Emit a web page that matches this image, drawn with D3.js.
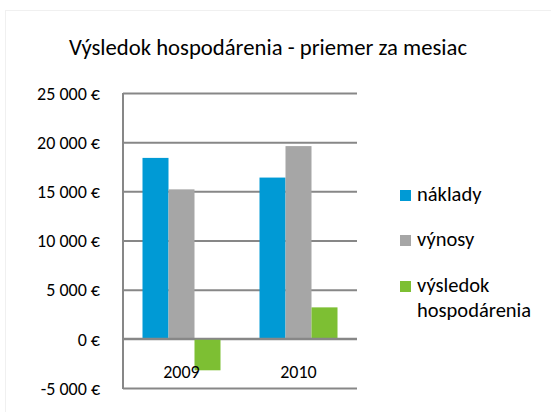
<!DOCTYPE html>
<html>
<head>
<meta charset="utf-8">
<script src="https://cdn.jsdelivr.net/npm/d3@7"></script>
<style>
    body { margin: 0; background: #fff; }
    text { font-family: Carlito, 'Liberation Sans', Arial, sans-serif; fill: #000; }
</style>
</head>
<body>
<div id="chart"></div>
<script>
const categories = ['2009', '2010'];
const seriesNames = ['náklady', 'výnosy', 'výsledok hospodárenia'];
const naklady = [18400, 16400];
const vynosy = [15200, 19600];
const vysledok = [-3200, 3200];
const yTicks = [-5000, 0, 5000, 10000, 15000, 20000, 25000];
const colors = ['#009AD5', '#A6A6A6', '#7DBF33'];

const seriesValues = [naklady, vynosy, vysledok];

const width = 551, height = 412;
const margin = { top: 93, right: 194, bottom: 24, left: 123 };

const svg = d3.select('#chart').append('svg')
    .attr('width', width)
    .attr('height', height);

// faint chart border
svg.append('rect')
    .attr('x', 5.5).attr('y', 10.5)
    .attr('width', 600).attr('height', 500)
    .attr('fill', 'none')
    .attr('stroke', '#f0f0f0');

// title
svg.append('text')
    .attr('x', 268)
    .attr('y', 55)
    .attr('text-anchor', 'middle')
    .style('font-size', '22.7px')
    .text('Výsledok hospodárenia - priemer za mesiac');

const plotW = width - margin.left - margin.right;
const plotH = height - margin.top - margin.bottom;

const g = svg.append('g')
    .attr('transform', 'translate(' + margin.left + ',' + margin.top + ')');

const locale = d3.formatLocale({
    decimal: ',', thousands: '\u00a0', grouping: [3], currency: ['', '\u00a0€'], minus: '-'
});
const fmt = locale.format('$,.0f');

const y = d3.scaleLinear()
    .domain([-5000, 25000])
    .range([plotH, 0]);

const x0 = d3.scaleBand()
    .domain(categories)
    .range([0, plotW]);

const x1 = d3.scaleBand()
    .domain(seriesNames)
    .range([0, x0.bandwidth()])
    .paddingInner(0)
    .paddingOuter(0.75);

// gridlines + tick labels
const yAxis = d3.axisLeft(y)
    .tickValues(yTicks)
    .tickSize(-plotW)
    .tickPadding(23)
    .tickFormat(fmt);
const ya = g.append('g')
    .attr('class', 'y-axis')
    .call(yAxis);
ya.select('.domain').remove();
ya.selectAll('.tick line')
    .attr('stroke', '#878787')
    .attr('stroke-width', 2);
ya.selectAll('.tick text')
    .style('font-size', '18px')
    .attr('dy', '0.35em');

// bars
const groups = g.selectAll('.cat')
    .data(categories)
    .enter().append('g')
    .attr('class', 'cat')
    .attr('transform', d => 'translate(' + x0(d) + ',0)');

groups.selectAll('rect')
    .data((d, i) => seriesNames.map((s, j) => ({ s: s, v: seriesValues[j][i], c: colors[j] })))
    .enter().append('rect')
    .attr('x', d => x1(d.s))
    .attr('width', x1.bandwidth())
    .attr('y', d => y(Math.max(0, d.v)))
    .attr('height', d => Math.abs(y(d.v) - y(0)))
    .attr('fill', d => d.c);

// zero line and left axis on top
g.append('line')
    .attr('x1', 0).attr('x2', plotW)
    .attr('y1', y(0)).attr('y2', y(0))
    .attr('stroke', '#878787').attr('stroke-width', 2);
g.append('line')
    .attr('x1', 0).attr('x2', 0)
    .attr('y1', 0).attr('y2', plotH + 1)
    .attr('stroke', '#878787').attr('stroke-width', 2);

// category labels
g.selectAll('.cat-label')
    .data(categories)
    .enter().append('text')
    .attr('class', 'cat-label')
    .attr('x', d => x0(d) + x0.bandwidth() / 2)
    .attr('y', y(0) + 39)
    .attr('text-anchor', 'middle')
    .style('font-size', '18px')
    .text(d => d);

// legend
const legendLines = [['náklady'], ['výnosy'], ['výsledok', 'hospodárenia']];
const legendY = [195, 240, 286];
const legend = svg.append('g')
    .attr('transform', 'translate(400,0)');
legendLines.forEach((lines, i) => {
    legend.append('rect')
        .attr('x', 0)
        .attr('y', legendY[i] - 5)
        .attr('width', 11)
        .attr('height', 11)
        .attr('fill', colors[i]);
    const t = legend.append('text')
        .attr('x', 17)
        .attr('y', legendY[i] + 6)
        .style('font-size', '20.5px');
    lines.forEach((l, k) => {
        t.append('tspan')
            .attr('x', 17)
            .attr('dy', k === 0 ? 0 : 25)
            .text(l);
    });
});
</script>
</body>
</html>
